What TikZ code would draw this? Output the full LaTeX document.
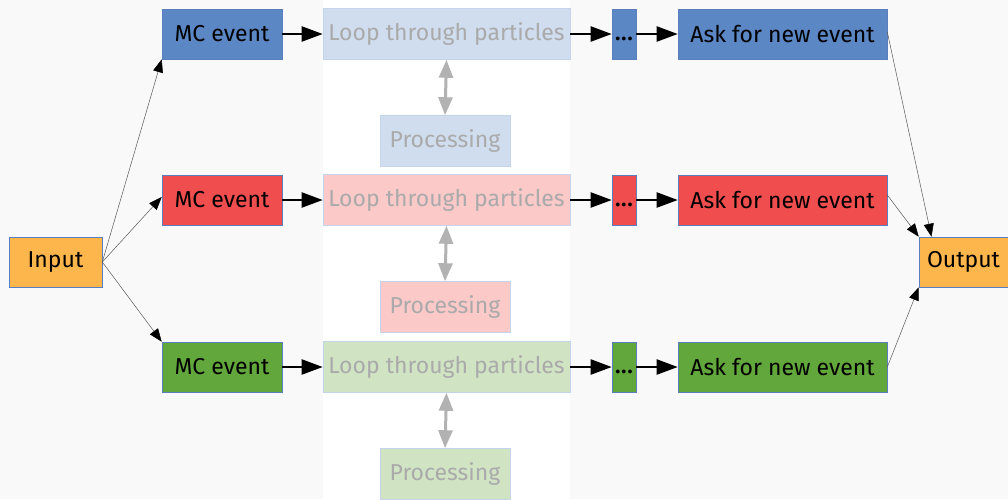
\documentclass[tikz,border=0pt]{standalone}
\usepackage{fontspec}
\setmainfont{Fira Sans}
\usetikzlibrary{arrows.meta}
\definecolor{bgc}{HTML}{F9F9F9}
\definecolor{cblue}{HTML}{5B87C5}
\definecolor{cred}{HTML}{F04E4E}
\definecolor{cgreen}{HTML}{62A73B}
\definecolor{corange}{HTML}{FDB64B}
\definecolor{lblue}{HTML}{CFDDEF}
\definecolor{lred}{HTML}{FBC9C8}
\definecolor{lgreen}{HTML}{D0E4C4}
\definecolor{edgec}{HTML}{5A7EBE}
\definecolor{ledge}{HTML}{C4D4EC}
\definecolor{ftext}{HTML}{AAAAAA}
\begin{document}
\begin{tikzpicture}[x=1pt,y=-1pt,
  box/.style={draw=edgec,line width=0.6pt,minimum height=50pt,inner sep=0pt,font=\fontsize{23}{26}\selectfont,text=black},
  fbox/.style={draw=ledge,line width=0.6pt,minimum height=51pt,inner sep=0pt,font=\fontsize{23}{26}\selectfont,text=ftext},
  thick arr/.style={-{Triangle[length=21pt,width=15pt]},line width=2.2pt,black},
  thin arr/.style={-{Triangle[length=13pt,width=10pt,color=black]},line width=0.5pt,black!65},
  gray arr/.style={{Triangle[length=18pt,width=14pt]}-{Triangle[length=18pt,width=14pt]},line width=3pt,black!30}]
\useasboundingbox (0,0) rectangle (1008,499);
\fill[bgc] (0,0) rectangle (1008,499);
\fill[white] (323,0) rectangle (570,499);
\node[box,fill=corange,minimum width=93pt] (in) at (55.5,262) {Input};
\node[box,fill=corange,minimum width=89pt] (out) at (963.5,262) {Output};
\foreach \r/\y/\c/\l in {a/34/cblue/lblue, b/200/cred/lred, c/367/cgreen/lgreen}{
  \node[box,fill=\c,minimum width=120pt] (mc\r) at (222,\y) {MC event};
  \node[fbox,fill=\l,minimum width=247pt] (lp\r) at (446.5,\y) {Loop through particles};
  \node[fbox,fill=\l,minimum width=130pt] (pr\r) at (445,\y+107) {Processing};
  \node[box,fill=\c,minimum width=24pt] (dt\r) at (624,\y) {\fontsize{21}{24}\selectfont\smash{\raisebox{-6.5pt}{\textbf{.\kern1pt.\kern1pt.}}}};
  \node[box,fill=\c,minimum width=209pt] (ak\r) at (782.5,\y) {Ask for new event};
  \draw[thick arr] (mc\r) -- (lp\r);
  \draw[thick arr] (lp\r) -- (dt\r);
  \draw[thick arr] (dt\r) -- (ak\r);
  \draw[gray arr] (lp\r.south) -- (pr\r.north);
}
\draw[thin arr] (in.east) -- (mca.south west);
\draw[thin arr] (in.east) -- ([yshift=3pt]mcb.west);
\draw[thin arr] (in.east) -- (mcc.north west);
\draw[thin arr] ([yshift=2pt]aka.east) -- ([xshift=-32pt]out.north);
\draw[thin arr] ([yshift=5pt]akb.east) -- (out.north west);
\draw[thin arr] (akc.east) -- (out.south west);
\end{tikzpicture}
\end{document}
